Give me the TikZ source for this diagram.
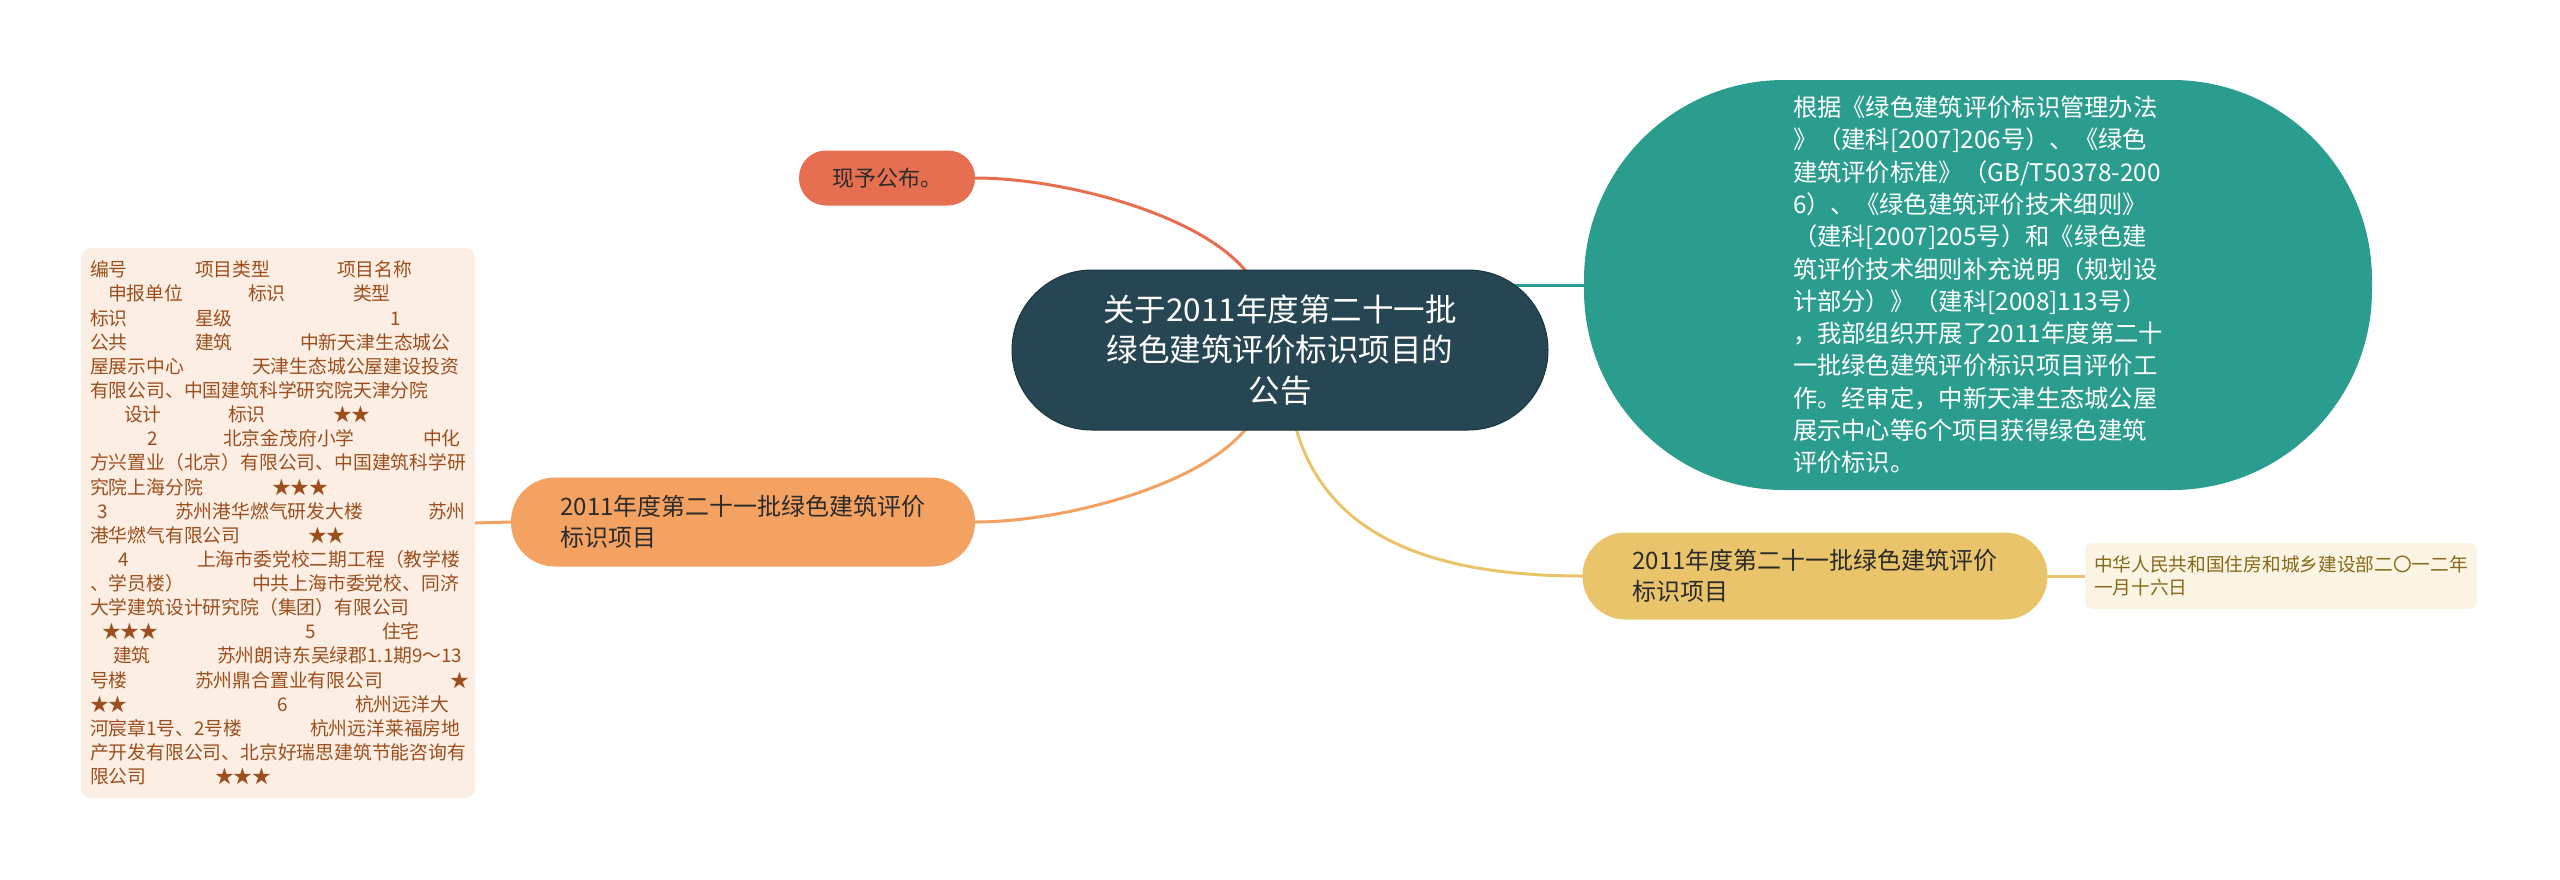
\documentclass[tikz,border=0pt]{standalone}
\usepackage{fontspec}
\setmainfont{Noto Sans CJK SC}
\usetikzlibrary{calc}
\pgfdeclarelayer{bg}
\pgfsetlayers{bg,main}
\definecolor{cdark}{HTML}{264653}
\definecolor{cdarkb}{HTML}{1B3440}
\definecolor{cteal}{HTML}{2A9D8F}
\definecolor{ccoral}{HTML}{E76F51}
\definecolor{corange}{HTML}{F4A261}
\definecolor{cyellow}{HTML}{E9C46A}
\definecolor{cpeach}{HTML}{FDEEE3}
\definecolor{ccream}{HTML}{FCF4E3}
\definecolor{cbrown}{HTML}{9B4F1E}
\definecolor{colive}{HTML}{86691A}
\definecolor{ctext}{HTML}{2B2B2B}
\newcommand\placeat[2]{\makebox[0pt][l]{\hspace*{#1pt}#2}}
\newcommand\boxline[1]{\hbox to 376pt{#1\hss}}
\begin{document}
\begin{tikzpicture}[x=1pt,y=-1pt,
  pill/.style={inner sep=0pt, text=ctext, align=left},
  conn/.style={line width=3pt, line cap=round}]
\useasboundingbox (0,0) rectangle (2560,879);

\node[fill=cdark, draw=cdarkb, line width=1pt, rounded corners=80pt,
      minimum width=536pt, minimum height=160pt, inner sep=0pt, text=white,
      font=\fontsize{31.5}{40.5}\selectfont, align=center] (ctr) at (1280,350)
  {关于2011年度第二十一批\\绿色建筑评价标识项目的\\公告};

\node[fill=cteal, rounded corners=200pt, minimum width=788pt, minimum height=410pt,
      inner sep=0pt, text=white, font=\fontsize{24.3}{32.3}\selectfont, align=left] (tl) at (1978,285)
  {根据《绿色建筑评价标识管理办法\\
   》（建科[2007]206号）、《绿色\\
   建筑评价标准》（GB/T50378-200\\
   6）、《绿色建筑评价技术细则》\\
   （建科[2007]205号）和《绿色建\\
   筑评价技术细则补充说明（规划设\\
   计部分）》（建科[2008]113号）\\
   ，我部组织开展了2011年度第二十\\
   一批绿色建筑评价标识项目评价工\\
   作。经审定，中新天津生态城公屋\\
   展示中心等6个项目获得绿色建筑\\
   评价标识。};

\node[pill, fill=ccoral, minimum width=176pt, minimum height=55pt, rounded corners=27pt,
      font=\fontsize{22}{28}\selectfont] (pf) at (887,178) {现予公布。};

\node[pill, fill=corange, minimum width=464pt, minimum height=89pt, rounded corners=44pt,
      font=\fontsize{24}{31.5}\selectfont] (ol) at (743,522)
  {2011年度第二十一批绿色建筑评价\\标识项目};

\node[pill, fill=cyellow, minimum width=465pt, minimum height=87pt, rounded corners=43pt,
      font=\fontsize{24}{30.5}\selectfont] (yr) at (1815,576)
  {2011年度第二十一批绿色建筑评价\\标识项目};

\node[pill, fill=ccream, text=colive, minimum width=392pt, minimum height=66pt, rounded corners=8pt,
      font=\fontsize{18.7}{23.5}\selectfont] (dt) at (2281,576)
  {中华人民共和国住房和城乡建设部二〇一二年\\一月十六日};

\node[pill, fill=cpeach, text=cbrown, minimum width=394pt, minimum height=550pt, rounded corners=10pt,
      font=\fontsize{18.8}{24.14}\selectfont] (lb) at (278,523)
  {\boxline{\placeat{0}{编号}\placeat{105}{项目类型}\placeat{247}{项目名称}}\\
   \boxline{\placeat{18}{申报单位}\placeat{158}{标识}\placeat{263}{类型}}\\
   \boxline{\placeat{0}{标识}\placeat{105}{星级}\placeat{300}{1}}\\
   \boxline{\placeat{0}{公共}\placeat{105}{建筑}\placeat{210}{中新天津生态城公}}\\
   \boxline{\placeat{0}{屋展示中心}\placeat{162}{天津生态城公屋建设投资}}\\
   \boxline{\placeat{0}{有限公司、中国建筑科学研究院天津分院}}\\
   \boxline{\placeat{34}{设计}\placeat{138}{标识}\placeat{243}{★★}}\\
   \boxline{\placeat{57}{2}\placeat{133}{北京金茂府小学}\placeat{333}{中化}}\\
   \boxline{\placeat{0}{方兴置业（北京）有限公司、中国建筑科学研}}\\
   \boxline{\placeat{0}{究院上海分院}\placeat{182}{★★★}}\\
   \boxline{\placeat{7}{3}\placeat{85}{苏州港华燃气研发大楼}\placeat{338}{苏州}}\\
   \boxline{\placeat{0}{港华燃气有限公司}\placeat{218}{★★}}\\
   \boxline{\placeat{28}{4}\placeat{107}{上海市委党校二期工程（教学楼}}\\
   \boxline{\placeat{0}{、学员楼）}\placeat{162}{中共上海市委党校、同济}}\\
   \boxline{\placeat{0}{大学建筑设计研究院（集团）有限公司}}\\
   \boxline{\placeat{12}{★★★}\placeat{215}{5}\placeat{292}{住宅}}\\
   \boxline{\placeat{23}{建筑}\placeat{127}{苏州朗诗东吴绿郡1.1期9～13}}\\
   \boxline{\placeat{0}{号楼}\placeat{105}{苏州鼎合置业有限公司}\placeat{360}{★}}\\
   \boxline{\placeat{0}{★★}\placeat{187}{6}\placeat{265}{杭州远洋大}}\\
   \boxline{\placeat{0}{河宸章1号、2号楼}\placeat{220}{杭州远洋莱福房地}}\\
   \boxline{\placeat{0}{产开发有限公司、北京好瑞思建筑节能咨询有}}\\
   \boxline{\placeat{0}{限公司}\placeat{125}{★★★}}};

\begin{pgfonlayer}{bg}
  \fill[white] (0,0) rectangle (2560,879);
  \draw[conn, ccoral] (pf.east) .. controls (1080,178) and (1258,230) .. ($(ctr.north)+(-18,40)$);
  \draw[conn, corange] (ol.east) .. controls (1080,522) and (1258,470) .. ($(ctr.south)+(-18,-40)$);
  \draw[conn, cyellow] ($(ctr.south)+(10,-30)$) .. controls (1310,530) and (1420,576) .. (yr.west);
  \draw[conn, cteal] ($(ctr.east)+(-60,-65)$) -- (tl.west);
  \draw[conn, corange] (lb.east) -- (ol.west);
  \draw[conn, cyellow] (yr.east) -- (dt.west);
\end{pgfonlayer}
\end{tikzpicture}
\end{document}
